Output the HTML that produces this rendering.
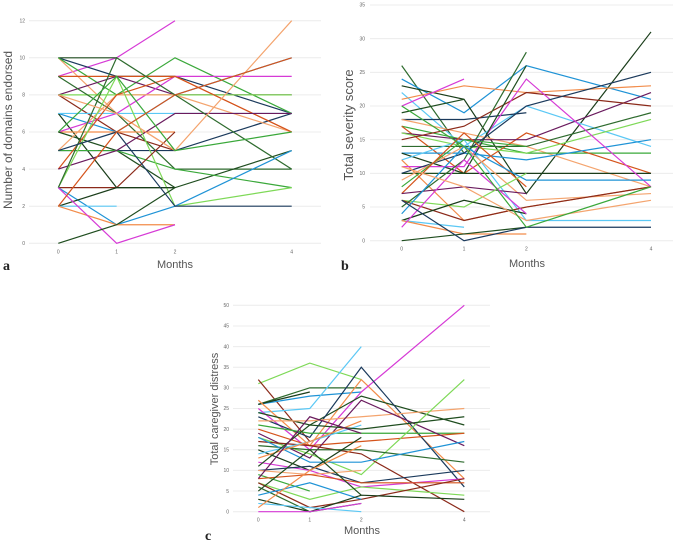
<!DOCTYPE html>
<html><head><meta charset="utf-8"><style>
body{margin:0;background:#fff;width:685px;height:542px;overflow:hidden}
svg{position:absolute;left:0;top:0}
text{font-family:"Liberation Sans",sans-serif}
text.lab{font-family:"Liberation Serif",serif}
</style></head><body>
<svg id="chart" width="685" height="542"></svg>
<script>
const months=[0,1,2,4];
const ticksA=[0,2,4,6,8,10,12];
const ticksB=[0,5,10,15,20,25,30,35];
const ticksC=[0,5,10,15,20,25,30,35,40,45,50];
const seriesA=[
[9,10,12,null],[10,10,null,null],[10,9,9,7],[10,7,5,null],[10,8,10,7],[9,9,9,6],[8,9,8,8],[8,8,8,8],
[8,6,5,null],[9,7,4,4],[7,6,8,10],[7,3,3,null],[7,7,7,7],[6,6,6,null],[6,7,9,9],[6,5,3,5],
[5,5,5,7],[5,8,8,6],[5,5,4,3],[4,8,9,6],[4,5,7,7],[3,9,2,3],[3,3,6,null],[3,10,8,4],
[3,1,2,5],[2,3,3,null],[2,2,null,null],[2,1,1,null],[3,0,1,null],[0,1,3,null],[5,6,2,2],
[8,7,5,12],[6,9,5,6],[2,6,8,10]];
const seriesB=[
[26,13,null,null],[24,19,26,21],[23,21,7,31],[22,14,20,14],[21,23,22,23],[20,24,null,null],
[19,21,null,null],[18,18,19,null],[18,16,14,8],[17,15,13,13],[17,10,16,10],[16,15,15,22],
[16,14,13,18],[15,17,22,20],[14,14,14,19],[13,13,12,15],[13,10,10,10],[12,15,3,3],[12,3,5,8],
[11,11,24,8],[10,10,26,null],[10,13,20,25],[9,14,6,7],[8,15,14,null],[7,16,8,null],[7,8,7,null],
[6,5,10,null],[6,3,5,8],[5,12,28,null],[4,14,9,9],[3,6,4,null],[3,2,null,null],[3,1,1,null],
[2,12,4,null],[0,1,2,null],[6,0,2,2],[11,8,3,6],[20,14,2,8]];
const seriesC=[
[31,36,32,null],[32,17,null,null],[26,30,30,null],[26,28,29,null],[26,29,null,null],[24,25,40,null],
[27,16,32,8],[25,15,29,50],[24,21,28,21],[23,18,35,6],[22,22,23,25],[21,19,19,19],[20,16,17,19],
[19,13,27,16],[18,14,9,32],[17,16,14,0],[16,15,15,12],[18,12,12,17],[15,10,18,null],[14,17,21,null],
[13,17,22,null],[12,10,6,8],[11,21,20,23],[10,11,7,10],[10,9,10,null],[9,5,null,null],[8,9,7,7],
[8,23,19,null],[7,3,6,4],[7,1,3,8],[6,0,2,null],[4,7,3,null],[3,0,4,3],[2,1,0,null],[1,10,16,null],
[0,0,2,null],[5,15,4,null]];
const palette=["#d63ad6","#f4a46e","#6a1b5e","#2e6b2e","#5bc8f5","#1f4d1f","#3aa83a","#7ed957","#1f93d6","#f28c4a","#1b3a5c","#d5541c","#8b2a1a","#1a3d1a"];
const svg=document.getElementById('chart');
const NS="http://www.w3.org/2000/svg";
function mk(tag,attrs,parent){const e=document.createElementNS(NS,tag);for(const k in attrs)e.setAttribute(k,attrs[k]);(parent||svg).appendChild(e);return e;}
function panel(cfg){
  const g=mk('g',{});
  
  
  const xs=m=>cfg.x0+(cfg.x4-cfg.x0)*m/4;
  const ys=v=>cfg.yb+(cfg.yt-cfg.yb)*v/cfg.ymax;
  cfg.ticks.forEach(t=>{
    const l=mk('line',{x1:cfg.gx1,x2:cfg.gx2,y1:ys(t),y2:ys(t),stroke:'#ececec','stroke-width':1},g);
    
    
    const tx=mk('text',{x:cfg.lx,y:ys(t)+1.7,'font-size':5,fill:'#666','text-anchor':'end'},g);
    tx.textContent=t;
    
    
  });
  months.forEach(m=>{
    const tx=mk('text',{x:xs(m),y:cfg.yb+10,'font-size':5,fill:'#666','text-anchor':'middle'},g);
    tx.textContent=m;
    
    
  });
  cfg.series.forEach((s,i)=>{
    const pts=[];s.forEach((v,j)=>{if(v!==null)pts.push(xs(months[j])+','+ys(v));});
    const p=mk('polyline',{points:pts.join(' '),fill:'none',stroke:palette[(i*5+cfg.off)%palette.length],'stroke-width':1.2},g);
    
    
  });
  const yt=mk('text',{x:cfg.tx,y:cfg.ty,'font-size':cfg.tfs,fill:'#555','text-anchor':'middle',transform:`rotate(-90 ${cfg.tx} ${cfg.ty})`},g);
  yt.textContent=cfg.title;
  
  
  const xt=mk('text',{x:cfg.mx,y:cfg.my,'font-size':11,fill:'#555','text-anchor':'middle'},g);
  xt.textContent='Months';
  
  
  const lb=mk('text',{x:cfg.px,y:cfg.py,'font-size':14,'font-weight':'bold',fill:'#222','class':'lab'},g);
  lb.textContent=cfg.letter;
  
  
}
panel({name:'panel-a',series:seriesA,ticks:ticksA,ymax:12,x0:58.3,x4:291.7,yt:20.7,yb:243.3,gx1:29,gx2:321,lx:25,tx:12,ty:130,tfs:12,title:'Number of domains endorsed',mx:175,my:268,px:3,py:270,letter:'a',off:0});
panel({name:'panel-b',series:seriesB,ticks:ticksB,ymax:35,x0:401.7,x4:651,yt:5,yb:240.7,gx1:370,gx2:673,lx:365,tx:353,ty:125,tfs:13,title:'Total severity score',mx:527,my:267,px:341,py:270,letter:'b',off:3});
panel({name:'panel-c',series:seriesC,ticks:ticksC,ymax:50,x0:258.3,x4:464.3,yt:305.3,yb:511.7,gx1:233,gx2:490,lx:229,tx:218,ty:409,tfs:11,title:'Total caregiver distress',mx:362,my:534,px:205,py:540,letter:'c',off:7});
</script>
</body></html>
